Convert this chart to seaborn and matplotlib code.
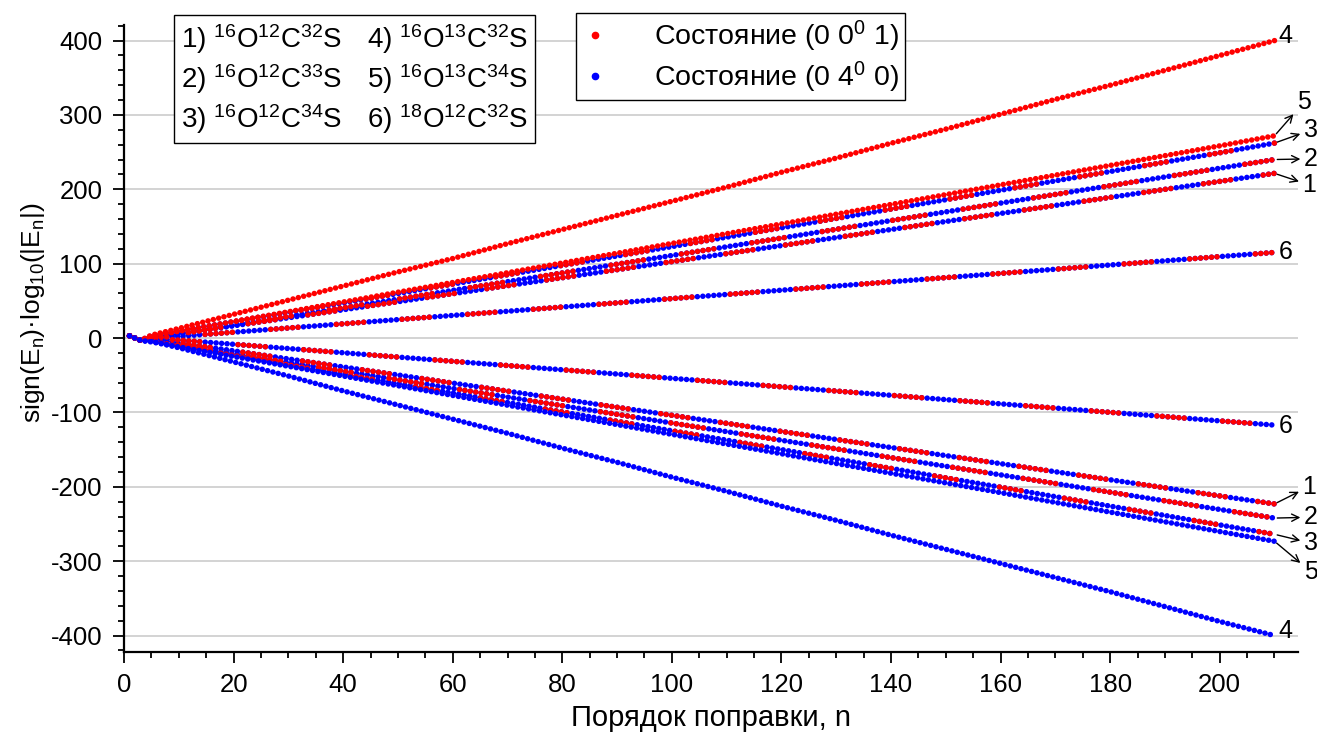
import matplotlib
matplotlib.use("Agg")
import matplotlib.pyplot as plt
import seaborn as sns
from matplotlib.lines import Line2D
from matplotlib.ticker import MultipleLocator

# ---------------- data ----------------
n_order = [1, 3, 5, 10, 20, 30, 40, 50, 60, 70, 80, 90, 100, 110, 120, 130,
           140, 150, 160, 170, 180, 190, 200, 210]

up1 = [3, -3, 0.3, 5.7, 16.5, 27.3, 38.1, 48.9, 59.7, 70.5, 81.2, 92.0, 102.8, 113.6,
       124.4, 135.2, 146.0, 156.8, 167.6, 178.4, 189.2, 200.0, 210.7, 221.5]
lo1 = [3, -3, -0.9, -6.3, -17.1, -28.0, -38.8, -49.6, -60.5, -71.3, -82.1, -93.0, -103.8,
       -114.6, -125.5, -136.3, -147.1, -158.0, -168.8, -179.7, -190.5, -201.3, -212.2, -223.0]
up2 = [3, -3, 1.0, 5.5, 17.2, 29.0, 40.7, 52.4, 64.2, 75.9, 87.6, 99.4, 111.1, 122.8,
       134.5, 146.3, 158.0, 169.7, 181.5, 193.2, 204.9, 216.7, 228.4, 240.1]
lo2 = [3, -3, -3.7, -9.5, -21.2, -32.8, -44.4, -56.0, -67.7, -79.3, -90.9, -102.5, -114.2,
       -125.8, -137.4, -149.0, -160.7, -172.3, -183.9, -195.5, -207.2, -218.8, -230.4, -242.0]
up3 = [3, -3, 3.2, 9.5, 22.1, 34.7, 47.3, 59.9, 72.6, 85.2, 97.8, 110.4, 123.0, 135.7,
       148.3, 160.9, 173.5, 186.1, 198.8, 211.4, 224.0, 236.6, 249.2, 262.2]
lo3 = [3, -3, -4.3, -10.6, -23.3, -36.0, -48.6, -61.3, -73.9, -86.6, -99.3, -111.9, -124.6,
       -137.2, -149.9, -162.6, -175.2, -187.9, -200.5, -213.2, -225.9, -238.5, -251.2, -263.8]
up4 = [3, -3, 4, 13, 32, 51, 70, 89, 107, 127, 146, 165, 184, 203, 223, 242, 262, 281,
       301, 321, 340, 360, 380, 400]
lo4 = [3, -3, -4, -13, -32, -51, -71, -90, -109, -128, -148, -167, -187, -206, -226, -245,
       -265, -284, -303, -322, -341, -361, -381, -400]
up5 = [3, -3, 2.6, 9.2, 22.3, 35.4, 48.5, 61.7, 74.8, 87.9, 101.0, 114.1, 127.3, 140.4,
       153.5, 166.6, 179.7, 192.9, 206.0, 219.1, 232.2, 245.3, 258.5, 272.0]
lo5 = [3, -3, -5.2, -11.8, -24.8, -37.9, -51.0, -64.0, -77.1, -90.2, -103.3, -116.3, -129.4,
       -142.5, -155.5, -168.6, -181.7, -194.7, -207.8, -220.9, -234.0, -247.0, -260.1, -273.2]
up6 = [3, -3, 0.5, 2.3, 7.9, 13.6, 19.2, 24.9, 30.5, 36.1, 41.8, 47.4, 53.1, 58.7,
       64.4, 70.0, 75.7, 81.3, 87.0, 92.6, 98.3, 103.9, 109.6, 115.2]
lo6 = [3, -3, -0.5, -2.6, -8.3, -14.0, -19.7, -25.5, -31.2, -36.9, -42.6, -48.3, -54.1,
       -59.8, -65.5, -71.2, -76.9, -82.7, -88.4, -94.1, -99.8, -105.5, -111.3, -117.0]

isotope_labels = [r"1) $^{16}$O$^{12}$C$^{32}$S", r"2) $^{16}$O$^{12}$C$^{33}$S",
                  r"3) $^{16}$O$^{12}$C$^{34}$S", r"4) $^{16}$O$^{13}$C$^{32}$S",
                  r"5) $^{16}$O$^{13}$C$^{34}$S", r"6) $^{18}$O$^{12}$C$^{32}$S"]
state_labels = [r"Состояние (0 0$^0$ 1)", r"Состояние (0 4$^0$ 0)"]
curve_tags = ["1", "2", "3", "4", "5", "6"]

# ---------------- style ----------------
sns.set_style("ticks")
plt.rcParams["font.family"] = ["Liberation Sans", "DejaVu Sans"]
plt.rcParams["mathtext.default"] = "regular"
plt.rcParams["axes.unicode_minus"] = False
plt.rcParams["lines.scale_dashes"] = False
for key in ("text.color", "axes.labelcolor", "xtick.color", "ytick.color",
            "xtick.labelcolor", "ytick.labelcolor", "axes.edgecolor"):
    plt.rcParams[key] = "black"

RED = "#ff0000"
BLUE = "#0000ff"
DOT_LW = 4.0
PERIOD = 3.95

fig = plt.figure(figsize=(13.17, 7.35), dpi=100)
ax = fig.add_axes([0.0942, 0.113, 0.891, 0.853])


def dotted(line, runs=None, phase=0):
    if runs is None:
        seq = [0.001, PERIOD - 0.001]
    else:
        k_on, k_off = runs
        seq = [0.001, PERIOD - 0.001] * (k_on - 1) + [0.001, PERIOD * (k_off + 1) - 0.001]
    line.set_linestyle((phase * PERIOD, seq))
    line.set_dash_capstyle("round")
    line.set_solid_capstyle("round")


def draw(vals, color, z, runs=None, phase=0):
    sns.lineplot(x=n_order, y=vals, color=color, lw=DOT_LW, ax=ax,
                 sort=False, estimator=None, zorder=z)
    dotted(ax.lines[-1], runs, phase)


curves = {"1": (up1, lo1), "2": (up2, lo2), "3": (up3, lo3),
          "4": (up4, lo4), "5": (up5, lo5), "6": (up6, lo6)}
mix_runs = {"1": (6, 5), "2": (7, 6), "3": (5, 7), "6": (6, 6)}

for i, tag in enumerate(curve_tags):
    up, lo = curves[tag]
    if tag in ("4", "5"):
        draw(up, RED, 4)
        draw(lo, BLUE, 4)
    else:
        draw(up, BLUE, 3)
        draw(up, RED, 3.5, runs=mix_runs[tag], phase=i * 2)
        draw(lo, BLUE, 3)
        draw(lo, RED, 3.5, runs=mix_runs[tag], phase=i * 3 + 1)

# ---------------- axes ----------------
ax.set_xlim(0, 214.2)
ax.set_ylim(-422, 421)
ax.xaxis.set_major_locator(MultipleLocator(20))
ax.xaxis.set_minor_locator(MultipleLocator(5))
ax.yaxis.set_major_locator(MultipleLocator(100))
ax.yaxis.set_minor_locator(MultipleLocator(20))
ax.tick_params(which="major", direction="out", length=8.2, width=1.3,
               labelsize=18.5, color="black", labelcolor="black")
ax.tick_params(which="minor", direction="out", length=4.3, width=1.3, color="black")
ax.tick_params(axis="x", which="major", pad=7)
ax.tick_params(axis="y", which="major", pad=7.5)
for s in ("top", "right"):
    ax.spines[s].set_visible(False)
for s in ("left", "bottom"):
    ax.spines[s].set_linewidth(1.6)
    ax.spines[s].set_color("black")
ax.yaxis.grid(True, color="#cccccc", lw=1.2)
ax.xaxis.grid(False)
ax.set_axisbelow(True)

ax.set_xlabel("Порядок поправки, n", fontsize=21, labelpad=5, color="black")
ax.set_ylabel("sign(E$_n$)·log$_{10}$(|E$_n$|)", fontsize=19, color="black")
ax.yaxis.set_label_coords(-0.066, 0.542)

# ---------------- curve tags ----------------
tag_offsets_up = {"4": (7.8, 3), "5": (21, 24), "3": (26, 9.3),
                  "2": (26, 0.5), "1": (25, -8.3), "6": (8.4, 0)}
tag_offsets_lo = {"6": (8.4, -0.4), "1": (25, 12.5), "2": (26, 0.6),
                  "3": (26, -6.3), "5": (26, -21.8), "4": (7.8, 3.1)}
for tag in curve_tags:
    up, lo = curves[tag]
    for vals, offs in ((up, tag_offsets_up), (lo, tag_offsets_lo)):
        arrow = None
        if tag not in ("4", "6"):
            arrow = dict(arrowstyle="<-", lw=1.0, color="black",
                         shrinkA=0, shrinkB=2, mutation_scale=13)
        ax.annotate(tag, xy=(n_order[-1], vals[-1]), xytext=offs[tag],
                    textcoords="offset points", ha="center", va="center",
                    fontsize=18, color="black", arrowprops=arrow,
                    annotation_clip=False)

# ---------------- legends ----------------
blank = [Line2D([], [], linestyle="none") for _ in isotope_labels]
leg1 = fig.legend(blank, isotope_labels, ncol=2, loc="upper left",
                  bbox_to_anchor=(0.1321, 0.9796), frameon=True, fancybox=False,
                  edgecolor="black", framealpha=1, fontsize=20, handlelength=0,
                  handletextpad=0, columnspacing=0.9, labelspacing=0.22,
                  borderpad=0.25, borderaxespad=0, labelcolor="black")
leg1.get_frame().set_linewidth(1.0)

state_handles = [Line2D([], [], linestyle="none", marker="o", markersize=4.5,
                        color=c) for c in (RED, BLUE)]
leg2 = fig.legend(state_handles, state_labels, loc="upper left",
                  bbox_to_anchor=(0.4374, 0.982), frameon=True, fancybox=False,
                  edgecolor="black", framealpha=1, fontsize=20.5, handlelength=1.0,
                  handletextpad=1.57, labelspacing=0.22, borderpad=0.18,
                  borderaxespad=0, labelcolor="black")
leg2.get_frame().set_linewidth(1.0)

fig.savefig("out.png", dpi=100)
